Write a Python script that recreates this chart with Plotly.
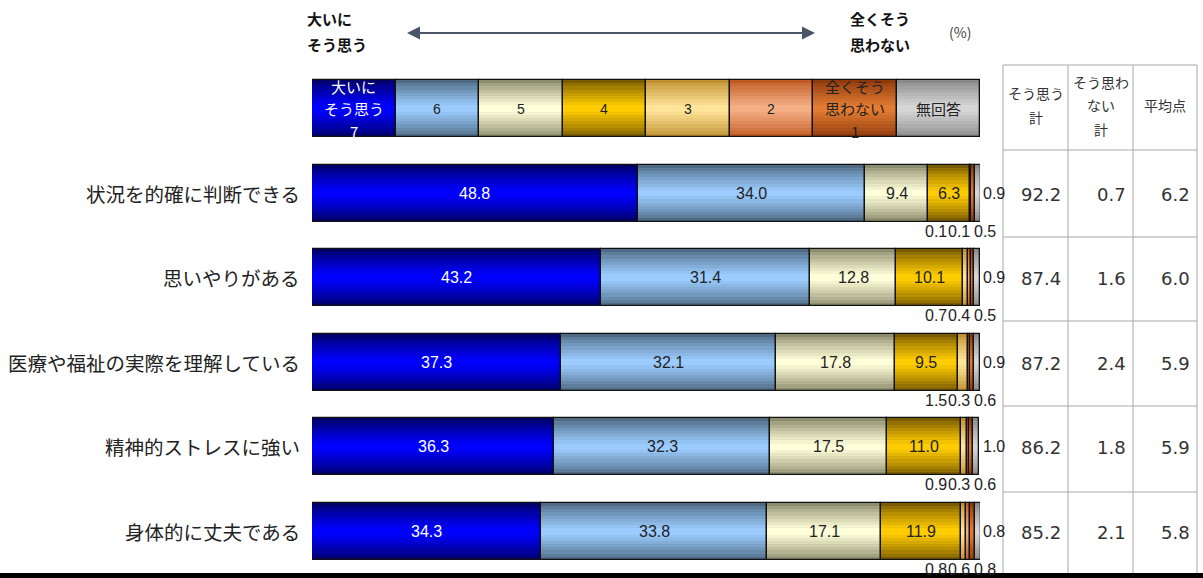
import plotly.graph_objects as go
import numpy as np

W, H = 1203, 578

# ---------------- data ----------------
categories = ["状況を的確に判断できる", "思いやりがある", "医療や福祉の実際を理解している",
              "精神的ストレスに強い", "身体的に丈夫である"]
v7 = [48.8, 43.2, 37.3, 36.3, 34.3]
v6 = [34.0, 31.4, 32.1, 32.3, 33.8]
v5 = [9.4, 12.8, 17.8, 17.5, 17.1]
v4 = [6.3, 10.1, 9.5, 11.0, 11.9]
v3 = [0.1, 0.7, 1.5, 0.9, 0.8]
v2 = [0.1, 0.4, 0.3, 0.3, 0.6]
v1 = [0.5, 0.5, 0.6, 0.6, 0.8]
v_na = [0.9, 0.9, 0.9, 1.0, 0.8]
agree_total = [92.2, 87.4, 87.2, 86.2, 85.2]
disagree_total = [0.7, 1.6, 2.4, 1.8, 2.1]
mean_score = [6.2, 6.0, 5.9, 5.9, 5.8]
legend_labels = ["大いに<br>そう思う<br>7", "6", "5", "4", "3", "2", "全くそう<br>思わない<br>1", "無回答"]
table_headers = ["そう思う<br>計", "そう思わ<br>ない<br>計", "平均点"]

# ---------------- styles ----------------
series = [v7, v6, v5, v4, v3, v2, v1, v_na]
center_cols = ["#0000FF", "#9CCCFF", "#FFFFDA", "#FFCC00", "#FFE49A", "#F4AE84", "#E27A32", "#D6D6D6"]
edge_cols = ["#000068", "#4E6A84", "#8C8C6E", "#7A5C00", "#C09030", "#C05A22", "#8E3A0C", "#8A8A8A"]
text_cols = ["#FFFFFF", "#222222", "#222222", "#222222"]

BAR_H = 57
row_y = [193 + 84.6 * i for i in range(len(categories))]
LEG_Y = 108.5
X0, X1 = 312, 980
CJK = "Noto Sans CJK JP"
NUMF = "Liberation Sans"


def hex2rgb(h):
    h = h.lstrip("#")
    return np.array([int(h[i:i + 2], 16) for i in (0, 2, 4)], dtype=float)


def mix(a, b, t):
    c = hex2rgb(a) * (1 - t) + hex2rgb(b) * t
    return "rgb(%d,%d,%d)" % tuple(int(round(v)) for v in c)


def px(x):
    return x / W


def py(y):
    return 1 - y / H


fig = go.Figure()
NL = 9

leg_vals = [100 / len(legend_labels)] * len(legend_labels)
leg_base = np.concatenate([[0], np.cumsum(leg_vals)[:-1]])

data = np.array(series)
bases = np.vstack([np.zeros(data.shape[1]), np.cumsum(data, axis=0)[:-1]])

for s in range(len(series)):
    for k in range(NL):
        t = (k / (NL - 1)) ** 0.8
        frac = 1 - k / NL
        col = mix(edge_cols[s], center_cols[s], t)
        fig.add_trace(go.Bar(
            orientation="h", y=row_y, x=list(data[s]), base=list(bases[s]),
            width=BAR_H * frac, marker=dict(color=col, line=dict(width=0)),
            showlegend=False, hoverinfo="skip"))
        fig.add_trace(go.Bar(
            orientation="h", y=[LEG_Y], x=[leg_vals[s]], base=[leg_base[s]],
            width=BAR_H * frac, marker=dict(color=col, line=dict(width=0)),
            showlegend=False, hoverinfo="skip"))
    fig.add_trace(go.Bar(
        orientation="h", y=row_y, x=list(data[s]), base=list(bases[s]),
        width=BAR_H, marker=dict(color="rgba(0,0,0,0)", line=dict(color="#111111", width=1.3)),
        showlegend=False, hoverinfo="skip"))
    fig.add_trace(go.Bar(
        orientation="h", y=[LEG_Y], x=[leg_vals[s]], base=[leg_base[s]],
        width=BAR_H, marker=dict(color="rgba(0,0,0,0)", line=dict(color="#111111", width=1.3)),
        showlegend=False, hoverinfo="skip"))

ann = []


def A(**kw):
    kw.setdefault("showarrow", False)
    kw.setdefault("xanchor", "center")
    kw.setdefault("yanchor", "middle")
    ann.append(kw)


# in-bar labels
for s in range(4):
    for r in range(len(categories)):
        A(x=bases[s][r] + data[s][r] / 2, y=row_y[r], xref="x", yref="y",
          text=f"{data[s][r]:.1f}", font=dict(family=NUMF, size=16, color=text_cols[s]))
# small labels under bar (3,2,1)
shifts = [-44, -21, 5]
for j, s in enumerate([4, 5, 6]):
    for r in range(len(categories)):
        A(x=100, y=row_y[r] + 38, xref="x", yref="y", xshift=shifts[j],
          text=f"{data[s][r]:.1f}", font=dict(family=NUMF, size=16, color="#222222"))
# no-answer labels
for r in range(len(categories)):
    A(x=100, y=row_y[r], xref="x", yref="y", xshift=1, xanchor="left",
      text=f"{v_na[r]:.1f}", font=dict(family=NUMF, size=16, color="#222222"))
# category labels
for r, c in enumerate(categories):
    A(x=px(302), y=row_y[r], xref="paper", yref="y", xanchor="right",
      text=c, font=dict(family=CJK, size=19.5, color="#222222"))
# legend labels (one annotation per line)
for s, lab in enumerate(legend_labels):
    col = "#FFFFFF" if s == 0 else "#222222"
    lines = lab.split("<br>")
    n = len(lines)
    for li, ln in enumerate(lines):
        fam = NUMF if ln.isdigit() and n == 1 else CJK
        size = 14 if n == 1 and ln.isdigit() else 15
        A(x=leg_base[s] + leg_vals[s] / 2, y=LEG_Y + (li - (n - 1) / 2) * 22.5,
          xref="x", yref="y", text=ln, font=dict(family=fam, size=size, color=col))

# header texts
hfont = dict(family=CJK, size=15, color="#111111")
A(x=px(305), y=py(18), xref="paper", yref="paper", xanchor="left", text="<b>大いに</b>", font=hfont)
A(x=px(305), y=py(44), xref="paper", yref="paper", xanchor="left", text="<b>そう思う</b>", font=hfont)
A(x=px(912), y=py(18), xref="paper", yref="paper", xanchor="right", text="<b>全くそう</b>", font=hfont)
A(x=px(912), y=py(44), xref="paper", yref="paper", xanchor="right", text="<b>思わない</b>", font=hfont)
A(x=px(960), y=py(32), xref="paper", yref="paper", text="(%)",
  font=dict(family=CJK, size=14, color="#444444"))
for tip, off in ((407, 210), (815, -210)):
    ann.append(dict(x=px(tip), y=py(33), ax=off, ay=0, xref="paper", yref="paper",
                    axref="pixel", ayref="pixel", text="", showarrow=True, arrowhead=2,
                    arrowsize=1.3, arrowwidth=2, arrowcolor="#4A5568"))

# table
col_x = [1003, 1068, 1133, 1197]
line_y = [65, 150, 237, 321, 406, 492]
shapes = []
for x in col_x:
    shapes.append(dict(type="line", xref="paper", yref="paper", x0=px(x), x1=px(x),
                       y0=py(65), y1=py(573), line=dict(color="#A8A8A8", width=1)))
for y in line_y:
    shapes.append(dict(type="line", xref="paper", yref="paper", x0=px(1003), x1=px(1197),
                       y0=py(y), y1=py(y), line=dict(color="#A8A8A8", width=1)))
shapes.append(dict(type="rect", xref="paper", yref="paper", x0=0, x1=1, y0=py(578), y1=py(573),
                   fillcolor="#000000", line=dict(width=0)))

hdr_x = [(col_x[i] + col_x[i + 1]) / 2 for i in range(3)]
for i, h in enumerate(table_headers):
    lines = h.split("<br>")
    n = len(lines)
    for li, ln in enumerate(lines):
        A(x=px(hdr_x[i]), y=py(105 + (li - (n - 1) / 2) * 23.5), xref="paper", yref="paper",
          text=ln, font=dict(family=CJK, size=14, color="#333333"))
tcols = [agree_total, disagree_total, mean_score]
for i, vals in enumerate(tcols):
    for r, v in enumerate(vals):
        A(x=px(col_x[i + 1] - 5), y=row_y[r] + 1, xref="paper", yref="y",
          xanchor="right", text=f"{v:.1f}", font=dict(family="DejaVu Sans", size=18, color="#333333"))

fig.update_layout(
    width=W, height=H, margin=dict(l=0, r=0, t=0, b=0),
    paper_bgcolor="white", plot_bgcolor="white",
    barmode="overlay", bargap=0,
    xaxis=dict(domain=[px(X0), px(X1)], range=[0, 100], visible=False, fixedrange=True),
    yaxis=dict(domain=[0, 1], range=[H, 0], visible=False, fixedrange=True),
    annotations=ann, shapes=shapes, showlegend=False,
)
fig.write_html("out.html")
